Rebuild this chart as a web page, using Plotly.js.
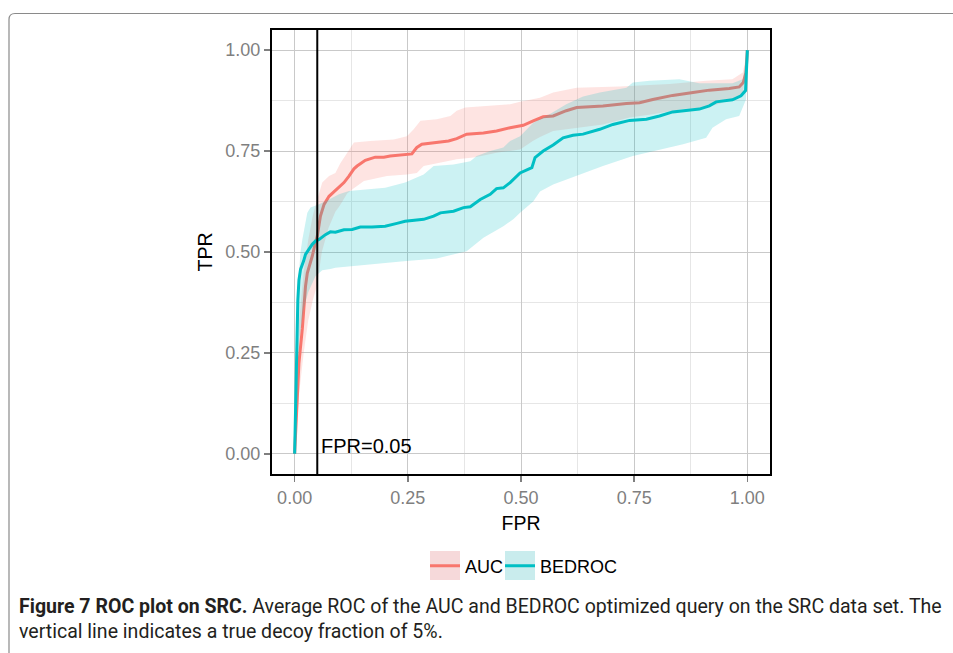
<!DOCTYPE html>
<html>
<head>
<meta charset="utf-8">
<script src="https://cdn.plot.ly/plotly-3.0.1.min.js"></script>
<style>html,body{margin:0;padding:0;background:#fff;}#chart{width:953px;height:653px;}</style>
</head>
<body>
<div id="chart"></div>
<script>
// ---- data ----
const seriesNames = ['AUC', 'BEDROC'];
const fprCutoff = 0.05;
const cutoffLabel = 'FPR=0.05';
const tickValues = [0, 0.25, 0.5, 0.75, 1];
const tickLabels = ['0.00', '0.25', '0.50', '0.75', '1.00'];

// AUC mean ROC
const aucFPR = [0,0.003,0.006,0.0095,0.017,0.024,0.028,0.035,0.039,0.046,0.05,0.057,0.065,0.076,0.09,0.098,0.109,0.12,0.131,0.138,0.156,0.178,0.197,0.211,0.244,0.259,0.265,0.27,0.281,0.314,0.34,0.358,0.38,0.417,0.446,0.476,0.505,0.527,0.549,0.571,0.60,0.623,0.681,0.733,0.762,0.791,0.835,0.88,0.916,0.96,0.982,0.991,0.997,1.0];
const aucTPR = [0,0.08,0.142,0.225,0.31,0.415,0.448,0.474,0.49,0.523,0.539,0.589,0.618,0.638,0.652,0.659,0.672,0.688,0.706,0.713,0.727,0.735,0.735,0.738,0.742,0.743,0.752,0.759,0.767,0.771,0.775,0.781,0.792,0.795,0.80,0.808,0.814,0.825,0.835,0.837,0.85,0.858,0.862,0.868,0.87,0.878,0.888,0.895,0.901,0.905,0.909,0.92,0.945,1.0];
// AUC ribbon
const aucUpFPR = [0,0.005,0.01,0.02,0.03,0.04,0.05,0.061,0.076,0.09,0.101,0.116,0.123,0.131,0.167,0.219,0.248,0.263,0.278,0.314,0.344,0.358,0.377,0.424,0.476,0.498,0.542,0.571,0.623,0.718,0.828,0.909,0.967,0.99,1];
const aucUpTPR = [0,0.2,0.33,0.45,0.53,0.59,0.63,0.672,0.688,0.696,0.72,0.745,0.757,0.771,0.775,0.779,0.787,0.804,0.825,0.829,0.837,0.85,0.858,0.862,0.866,0.872,0.882,0.895,0.907,0.91,0.916,0.924,0.928,0.945,1];
const aucLoFPR = [0,0.01,0.02,0.03,0.04,0.05,0.06,0.075,0.09,0.1,0.116,0.127,0.153,0.204,0.248,0.27,0.285,0.322,0.358,0.395,0.42,0.446,0.498,0.526,0.542,0.571,0.626,0.681,0.74,0.791,0.858,0.909,0.94,0.99,1];
const aucLoTPR = [0,0.15,0.25,0.33,0.38,0.42,0.5,0.56,0.6,0.615,0.645,0.655,0.676,0.688,0.692,0.696,0.713,0.721,0.73,0.734,0.74,0.746,0.754,0.775,0.785,0.80,0.808,0.816,0.833,0.841,0.854,0.858,0.868,0.89,1];

// BEDROC mean ROC
const bedFPR = [0,0.004,0.007,0.0095,0.013,0.02,0.024,0.031,0.039,0.046,0.054,0.068,0.079,0.09,0.109,0.127,0.145,0.171,0.2,0.226,0.244,0.285,0.307,0.322,0.351,0.373,0.388,0.41,0.432,0.446,0.461,0.476,0.498,0.524,0.531,0.549,0.571,0.593,0.615,0.637,0.674,0.703,0.74,0.777,0.806,0.835,0.894,0.916,0.931,0.967,0.986,0.996,1.0];
const bedTPR = [0,0.25,0.38,0.43,0.457,0.478,0.494,0.506,0.519,0.527,0.531,0.543,0.55,0.549,0.555,0.556,0.562,0.562,0.564,0.571,0.576,0.581,0.589,0.597,0.601,0.61,0.612,0.63,0.643,0.657,0.659,0.672,0.696,0.709,0.734,0.75,0.765,0.783,0.789,0.792,0.804,0.816,0.826,0.829,0.837,0.847,0.854,0.862,0.872,0.877,0.887,0.9,1.0];
// BEDROC ribbon
const bedUpFPR = [0,0.005,0.0095,0.013,0.017,0.024,0.028,0.035,0.054,0.076,0.098,0.12,0.164,0.2,0.244,0.285,0.307,0.351,0.388,0.402,0.432,0.461,0.476,0.498,0.527,0.564,0.60,0.637,0.674,0.733,0.747,0.784,0.85,0.894,0.967,0.99,1];
const bedUpTPR = [0,0.35,0.448,0.5,0.531,0.58,0.597,0.61,0.618,0.63,0.643,0.651,0.655,0.659,0.672,0.692,0.713,0.717,0.725,0.738,0.75,0.759,0.775,0.787,0.82,0.842,0.866,0.885,0.895,0.907,0.92,0.924,0.928,0.918,0.918,0.928,1];
const bedLoFPR = [0,0.005,0.01,0.02,0.03,0.046,0.061,0.079,0.09,0.127,0.167,0.2,0.241,0.314,0.38,0.417,0.432,0.461,0.483,0.498,0.527,0.542,0.571,0.623,0.681,0.747,0.806,0.858,0.909,0.923,0.953,0.982,0.997,1];
const bedLoTPR = [0,0.2,0.28,0.36,0.4,0.44,0.455,0.458,0.461,0.466,0.469,0.473,0.477,0.484,0.502,0.535,0.545,0.564,0.581,0.597,0.625,0.65,0.667,0.688,0.713,0.738,0.754,0.767,0.783,0.808,0.829,0.837,0.878,1];

const captionBold = 'Figure 7 ROC plot on SRC.';
const captionText = ' Average ROC of the AUC and BEDROC optimized query on the SRC data set. The<br>vertical line indicates a true decoy fraction of 5%.';

// ---- styling ----
const colRed = '#F8766D', colCyan = '#00BFC4';
const fillRed = 'rgba(248,118,109,0.2)', fillCyan = 'rgba(0,191,196,0.2)';
const FONT = '"Liberation Sans", Arial, sans-serif';

// plot area in pixels (for paper conversions of decorations)
const W = 953, H = 653, L = 272, R = 770, T = 30, B = 474;
const px2x = p => (p - L) / (R - L);
const px2y = p => (B - p) / (B - T);

function ribbon(xu, yu, xl, yl, fc) {
  return {
    x: xu.concat(xl.slice().reverse()),
    y: yu.concat(yl.slice().reverse()),
    type: 'scatter', mode: 'lines', fill: 'toself', fillcolor: fc,
    line: {width: 0, color: fc}, hoverinfo: 'skip', showlegend: false
  };
}

const traces = [
  ribbon(aucUpFPR, aucUpTPR, aucLoFPR, aucLoTPR, fillRed),
  {x: aucFPR, y: aucTPR, type: 'scatter', mode: 'lines', name: seriesNames[0],
   line: {color: colRed, width: 3}, legend: 'legend'},
  ribbon(bedUpFPR, bedUpTPR, bedLoFPR, bedLoTPR, fillCyan),
  {x: bedFPR, y: bedTPR, type: 'scatter', mode: 'lines', name: seriesNames[1],
   line: {color: colCyan, width: 3}, legend: 'legend2'}
];

const axisCommon = {
  range: [-0.05, 1.05], tickvals: tickValues, ticktext: tickLabels,
  showgrid: true, gridcolor: '#c9c9c9', gridwidth: 1,
  minor: {dtick: 0.125, tick0: 0, showgrid: true, gridcolor: '#e6e6e6', gridwidth: 1, ticks: ''},
  zeroline: false, showline: true, mirror: true, linecolor: '#000', linewidth: 2,
  ticks: 'outside', ticklen: 6, tickwidth: 1.5, tickcolor: '#7f7f7f',
  tickfont: {family: FONT, size: 18, color: '#7f7f7f'}, fixedrange: true
};

// corner-rounded border path
const r = 6;
const bx0 = 9, by0 = 13.5, bx1 = 970, by1 = 670;
const borderPath = 'M ' + px2x(bx0) + ',' + px2y(by1) +
  ' L ' + px2x(bx0) + ',' + px2y(by0 + r) +
  ' Q ' + px2x(bx0) + ',' + px2y(by0) + ' ' + px2x(bx0 + r) + ',' + px2y(by0) +
  ' L ' + px2x(bx1) + ',' + px2y(by0);

const legendCommon = {
  orientation: 'h', xanchor: 'left', y: px2y(566), yanchor: 'middle',
  bgcolor: 'rgba(0,0,0,0)', font: {family: FONT, size: 18, color: '#000'},
  itemclick: false, itemdoubleclick: false
};

const layout = {
  width: W, height: H,
  margin: {l: L, r: W - R, t: T, b: H - B, pad: 0},
  paper_bgcolor: '#fff', plot_bgcolor: '#fff',
  font: {family: FONT, color: '#000'},
  xaxis: Object.assign({}, axisCommon, {
    title: {text: 'FPR', font: {family: FONT, size: 19.5, color: '#000'}, standoff: 10}
  }),
  yaxis: Object.assign({}, axisCommon, {
    title: {text: 'TPR', font: {family: FONT, size: 19.5, color: '#000'}, standoff: 8}
  }),
  showlegend: true,
  legend: Object.assign({}, legendCommon, {x: px2x(425)}),
  legend2: Object.assign({}, legendCommon, {x: px2x(500)}),
  shapes: [
    {type: 'line', xref: 'x', yref: 'paper', x0: fprCutoff, x1: fprCutoff, y0: 0, y1: 1,
     line: {color: '#000', width: 2}, layer: 'above'},
    {type: 'rect', xref: 'paper', yref: 'paper', x0: px2x(430), x1: px2x(460), y0: px2y(580), y1: px2y(551),
     fillcolor: '#F6D9DA', line: {width: 0}, layer: 'below'},
    {type: 'rect', xref: 'paper', yref: 'paper', x0: px2x(505), x1: px2x(535), y0: px2y(580), y1: px2y(551),
     fillcolor: '#C9ECED', line: {width: 0}, layer: 'below'},
    {type: 'path', xref: 'paper', yref: 'paper', path: borderPath,
     line: {color: '#8a8a8a', width: 1.2}, layer: 'below'}
  ],
  annotations: [
    {xref: 'x', yref: 'y', x: fprCutoff, y: 0, text: cutoffLabel, showarrow: false,
     xanchor: 'left', yanchor: 'middle', xshift: 2, yshift: 8,
     font: {family: FONT, size: 20, color: '#000'}},
    {xref: 'paper', yref: 'paper', x: px2x(17), y: px2y(593), xanchor: 'left', yanchor: 'top',
     align: 'left', showarrow: false,
     text: '<b>' + captionBold + '</b>' + captionText,
     font: {family: 'Roboto, "Noto Sans", sans-serif', size: 19.55, color: '#231f20'}}
  ]
};

Plotly.newPlot('chart', traces, layout, {staticPlot: true, displayModeBar: false});
</script>
</body>
</html>
